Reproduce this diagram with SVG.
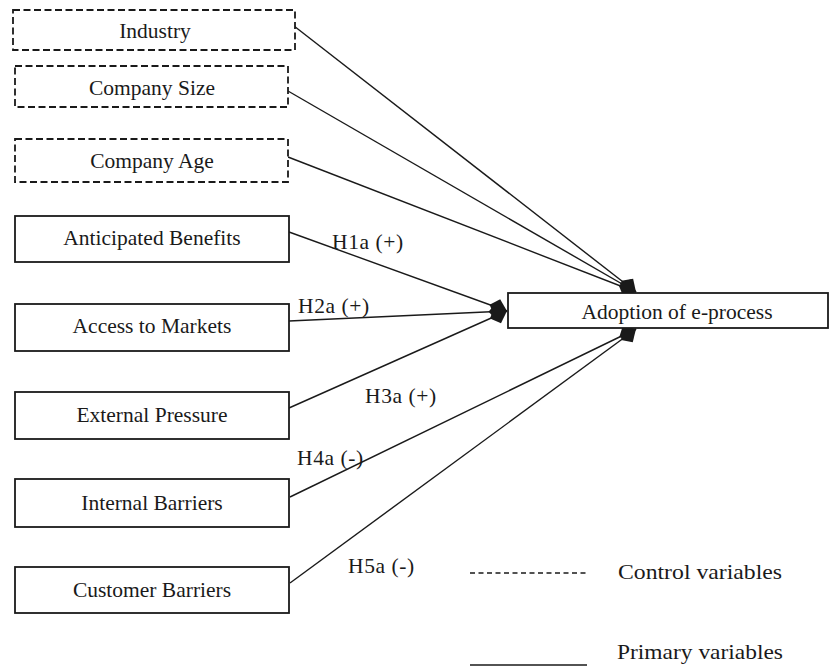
<svg xmlns="http://www.w3.org/2000/svg" width="830" height="671" viewBox="0 0 830 671">
<style>
.box{fill:#fff;stroke:#1a1a1a;stroke-width:1.8}
.ctrl{stroke-dasharray:7 3.5}
.t{font-family:"Liberation Serif","Times New Roman",serif;font-size:21.5px;fill:#1a1a1a;text-anchor:middle}
.lbl{font-family:"Liberation Serif","Times New Roman",serif;font-size:21.5px;fill:#1a1a1a;letter-spacing:0.6px}
.lg{font-family:"Liberation Serif","Times New Roman",serif;font-size:22px;fill:#1a1a1a}
.c{fill:none;stroke:#1a1a1a;stroke-width:1.4}
</style>
<defs>
<marker id="ah" markerUnits="userSpaceOnUse" markerWidth="22" markerHeight="22" viewBox="-18 -9 19 18" refX="0" refY="0" orient="auto">
<path d="M0,0 L-9,-7.5 L-16,0 L-9,7.5 Z" fill="#1a1a1a"/>
</marker>
</defs>
<rect width="830" height="671" fill="#fff"/>
<g id="connectors">
<line class="c" x1="294" y1="26" x2="636" y2="292" marker-end="url(#ah)"/>
<line class="c" x1="288" y1="91" x2="636" y2="292" marker-end="url(#ah)"/>
<line class="c" x1="288" y1="157" x2="636" y2="292" marker-end="url(#ah)"/>
<line class="c" x1="289" y1="232" x2="507" y2="311" marker-end="url(#ah)"/>
<line class="c" x1="289" y1="321" x2="507" y2="311" marker-end="url(#ah)"/>
<line class="c" x1="289" y1="408" x2="507" y2="311" marker-end="url(#ah)"/>
<line class="c" x1="290" y1="497" x2="636" y2="329" marker-end="url(#ah)"/>
<line class="c" x1="290" y1="583" x2="636" y2="329" marker-end="url(#ah)"/>
<text class="lbl" x="332" y="249">H1a (+)</text>
<text class="lbl" x="298" y="313">H2a (+)</text>
<text class="lbl" x="365" y="403">H3a (+)</text>
<text class="lbl" x="297" y="465">H4a (-)</text>
<text class="lbl" x="348" y="573">H5a (-)</text>
</g>
<g id="industry"><rect class="box ctrl" x="13" y="10" width="282" height="40"/><text class="t" x="155" y="38">Industry</text></g>
<g id="company-size"><rect class="box ctrl" x="15" y="66" width="273" height="41"/><text class="t" x="152" y="95">Company Size</text></g>
<g id="company-age"><rect class="box ctrl" x="15" y="139" width="273" height="43"/><text class="t" x="152" y="168">Company Age</text></g>
<g id="anticipated-benefits"><rect class="box" x="15" y="216" width="274" height="46"/><text class="t" x="152" y="245">Anticipated Benefits</text></g>
<g id="access-to-markets"><rect class="box" x="15" y="304" width="274" height="47"/><text class="t" x="152" y="333">Access to Markets</text></g>
<g id="external-pressure"><rect class="box" x="15" y="392" width="274" height="47"/><text class="t" x="152" y="422">External Pressure</text></g>
<g id="internal-barriers"><rect class="box" x="15" y="479" width="274" height="48"/><text class="t" x="152" y="510">Internal Barriers</text></g>
<g id="customer-barriers"><rect class="box" x="15" y="567" width="274" height="46"/><text class="t" x="152" y="597">Customer Barriers</text></g>
<g id="adoption"><rect class="box" x="508" y="293" width="320" height="35"/><text class="t" x="677" y="319">Adoption of e-process</text></g>
<g id="legend">
<line x1="470" y1="573" x2="587" y2="573" stroke="#1a1a1a" stroke-width="1.3" stroke-dasharray="5 3.5"/>
<text class="lg" x="618" y="579" textLength="164" lengthAdjust="spacingAndGlyphs">Control variables</text>
<line x1="470" y1="665" x2="587" y2="665" stroke="#1a1a1a" stroke-width="1.4"/>
<text class="lg" x="617" y="659" textLength="166" lengthAdjust="spacingAndGlyphs">Primary variables</text>
</g>
</svg>
